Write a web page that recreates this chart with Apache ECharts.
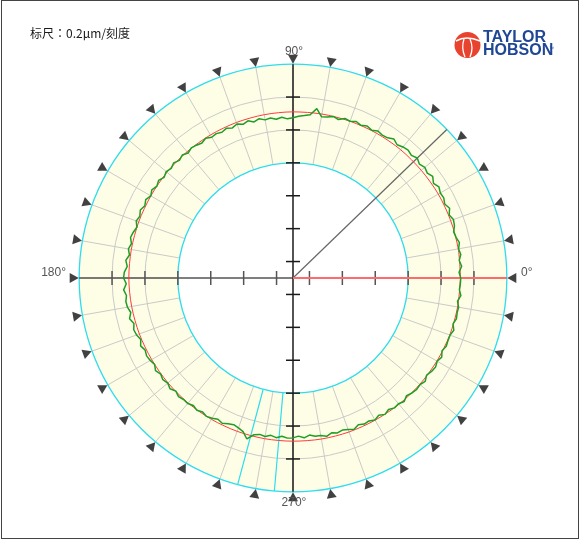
<!DOCTYPE html>
<html><head><meta charset="utf-8">
<script src="https://cdn.jsdelivr.net/npm/echarts@6/dist/echarts.min.js"></script>
<style>
html,body{margin:0;padding:0;background:#fff;}
#frame{position:absolute;left:1px;top:0;width:576px;height:537px;border:1px solid #444;}
#chart{position:absolute;left:0;top:0;width:580px;height:540px;}
</style></head><body>
<div id="frame"></div>
<div id="chart"></div>
<script>
// ---- data ----
const scaleText = '标尺：0.2μm/刻度';
const angleLabels = ['0°', '90°', '180°', '270°'];
const bandInner = 3.5;
const bandOuter = 6.5;
const gridRings = [4.5, 5.5];
const boundaryRings = [3.5, 6.5];
const spokeAngles = [0,10,20,30,40,50,60,70,80,90,100,110,120,130,140,150,160,170,
                     180,190,200,210,220,230,240,250,260,270,280,290,300,310,320,330,340,350];
const markerAngles = spokeAngles;
const cursorAngles = [255, 265];
const axisAngles = [0, 90, 180, 270];
const axisTickRadii = [0.5, 1.5, 2.5, 3.5, 4.5, 5.5];
const refLineAngle = 44;
const lsAngles = [0,10,20,30,40,50,60,70,80,90,100,110,120,130,140,150,160,170,180,
                  190,200,210,220,230,240,250,260,270,280,290,300,310,320,330,340,350,360];
const lsRadius = [5.09,5.10,5.10,5.10,5.09,5.09,5.08,5.07,5.06,5.05,5.04,5.03,5.02,5.01,5.00,4.99,4.99,4.99,4.99,
                  4.98,4.97,4.96,4.96,4.96,4.96,4.96,4.96,4.96,4.97,4.98,4.99,5.01,5.03,5.05,5.07,5.08,5.09];
const profileStep = 2; // degrees between profile samples
const profileRadius = [
  5.10,5.05,5.14,5.08,5.15, 5.11,5.17,5.11,5.08,5.16,
  5.19,5.12,5.21,5.13,5.19, 5.17,5.23,5.15,5.25,5.18,
  5.23,5.17,5.25,5.18,5.23, 5.20,5.14,5.22,5.14,5.12,
  5.16,5.09,5.14,5.08,5.13, 5.07,5.10,5.01,5.06,5.00,
  4.98,5.20,4.99,4.95,4.92, 4.87,4.84,4.90,4.85,4.91,
  4.88,4.95,4.89,4.97,4.91, 4.98,4.92,4.98,4.93,4.97,
  4.94,5.01,4.95,4.99,5.02, 4.96,5.03,4.97,5.04,4.98,
  5.03,4.97,5.05,4.99,5.06, 4.99,5.07,5.01,5.08,5.02,
  5.07,4.99,5.05,5.09,5.02, 5.08,5.02,5.11,5.05,5.13,
  5.15,5.07,5.16,5.09,5.13, 5.11,5.04,5.12,5.03,5.09,
  5.06,4.99,5.07,5.00,5.04, 5.01,4.96,5.04,4.97,5.02,
  4.97,5.03,4.95,5.01,4.97, 4.98,4.92,4.97,4.91,4.96,
  4.92,4.86,4.91,4.85,4.81, 4.85,4.91,5.09,4.91,4.86,
  4.89,4.83,4.88,4.82,4.87, 4.86,4.81,4.87,4.80,4.86,
  4.86,4.92,4.85,4.90,4.86, 4.90,4.96,4.88,4.94,4.92,
  4.98,4.92,5.00,4.94,5.01, 4.99,5.05,4.97,5.03,5.06,
  5.04,5.10,5.02,5.08,5.11, 5.06,5.12,5.04,5.10,5.08,
  5.08,5.14,5.06,5.12,5.10, 5.11,5.05,5.13,5.07,5.09
];

// ---- build ----
const chart = echarts.init(document.getElementById('chart'), null, {renderer: 'canvas'});
const CX = 293, CY = 278, UNIT = 32.9, RMAX = 7;

function center(api) { return api.coord([0, 0]); }
function dist(a, b) { return Math.hypot(a[0] - b[0], a[1] - b[1]); }

const profileData = profileRadius.map((r, i) => [r, i * profileStep]);
profileData.push([profileRadius[0], 360]);
const lsData = lsRadius.map((r, i) => [r, lsAngles[i]]);

const tickData = [];
axisAngles.forEach(a => axisTickRadii.forEach(r => tickData.push([r, a])));

const ringSeries = (rings, color, width, z) => ({
  type: 'custom', coordinateSystem: 'polar', z: z, silent: true,
  data: rings.map(r => [r, 0]),
  renderItem: (params, api) => {
    const c = center(api);
    const rr = dist(c, api.coord([api.value(0), 0]));
    return {type: 'circle', shape: {cx: c[0], cy: c[1], r: rr},
            style: {fill: null, stroke: color, lineWidth: width}};
  }
});
const spokeSeries = (angles, color, width, z) => ({
  type: 'custom', coordinateSystem: 'polar', z: z, silent: true,
  data: angles.map(a => [bandOuter, a]),
  renderItem: (params, api) => {
    const a = api.value(1);
    const p0 = api.coord([bandInner, a]);
    const p1 = api.coord([bandOuter, a]);
    return {type: 'line', shape: {x1: p0[0], y1: p0[1], x2: p1[0], y2: p1[1]},
            style: {stroke: color, lineWidth: width}};
  }
});
const straight = (data, color, width, z) => ({
  type: 'line', coordinateSystem: 'polar', z: z, silent: true,
  showSymbol: false, symbol: 'none', data: data,
  lineStyle: {color: color, width: width}
});
const txt = (x, y, text, align, font, fill) => ({
  type: 'text', x: x, y: y, z: 10,
  style: {text: text, fill: fill, font: font, align: align, verticalAlign: 'middle',
          textAlign: align, textVerticalAlign: 'middle'}
});
const LBL_FONT = '12px "Liberation Sans", Arial, sans-serif';
const LOGO_FONT = 'bold 16px "Liberation Sans", Arial, sans-serif';

const option = {
  animation: false,
  backgroundColor: 'transparent',
  polar: {center: [CX, CY], radius: RMAX * UNIT},
  angleAxis: {type: 'value', min: 0, max: 360, startAngle: 0, clockwise: false,
    axisLine: {show: false}, axisTick: {show: false}, axisLabel: {show: false},
    splitLine: {show: false}},
  radiusAxis: {type: 'value', min: 0, max: RMAX,
    axisLine: {show: false}, axisTick: {show: false}, axisLabel: {show: false},
    splitLine: {show: false}},
  series: [
    { // band
      type: 'custom', coordinateSystem: 'polar', z: 1, silent: true,
      data: [[bandOuter, 0]],
      renderItem: (params, api) => {
        const c = center(api);
        const r0 = dist(c, api.coord([bandInner, 0]));
        const r1 = dist(c, api.coord([bandOuter, 0]));
        return {type: 'ring', shape: {cx: c[0], cy: c[1], r: r1, r0: r0},
                style: {fill: '#FEFEE6'}};
      }
    },
    ringSeries(gridRings, '#cacaca', 1, 2),
    spokeSeries(spokeAngles, '#cacaca', 1, 2),
    ringSeries(boundaryRings, '#2edcee', 1.3, 3),
    spokeSeries(cursorAngles, '#2edcee', 1.2, 3),
    straight([[bandOuter, 180], [bandOuter, 0]], '#555', 1.5, 4),
    straight([[bandOuter, 90], [bandOuter, 270]], '#1a1a1a', 1.5, 4),
    { // axis ticks
      type: 'custom', coordinateSystem: 'polar', z: 4, silent: true,
      data: tickData,
      renderItem: (params, api) => {
        const a = api.value(1);
        const p = api.coord([api.value(0), a]);
        const c = center(api);
        const L = dist(c, p) || 1;
        const ux = (p[0] - c[0]) / L, uy = (p[1] - c[1]) / L;
        const h = 7;
        const col = (a === 0 || a === 180) ? '#555' : '#1a1a1a';
        return {type: 'line', shape: {x1: p[0] - uy * h, y1: p[1] + ux * h, x2: p[0] + uy * h, y2: p[1] - ux * h},
                style: {stroke: col, lineWidth: 1.5}};
      }
    },
    straight([[0, refLineAngle], [bandOuter, refLineAngle]], '#666', 1.2, 5),
    straight([[0, 0], [bandOuter, 0]], '#ff6b6b', 2, 5),
    Object.assign(straight(lsData, '#ff3b3b', 1, 6), {smooth: 0.3}),
    straight(profileData, '#1f9e26', 1.5, 7),
    {
      type: 'scatter', coordinateSystem: 'polar', z: 9, silent: true,
      symbol: 'triangle', symbolSize: [10, 9],
      itemStyle: {color: '#111'},
      data: markerAngles.map(a => ({value: [bandOuter + 0.15, a], symbolRotate: a + 90}))
    }
  ],
  graphic: [
    txt(30, 33, scaleText, 'left', '12px "Noto Sans CJK JP", "Noto Sans CJK SC", sans-serif', '#1a1a1a'),
    txt(521, 273, angleLabels[0], 'left', LBL_FONT, '#555'),
    txt(294, 52, angleLabels[1], 'center', LBL_FONT, '#555'),
    txt(66, 273, angleLabels[2], 'right', LBL_FONT, '#555'),
    txt(294, 503, angleLabels[3], 'center', LBL_FONT, '#555'),
    // logo
    {type: 'circle', shape: {cx: 467.5, cy: 45, r: 13}, style: {fill: '#e8432e'}},
    {type: 'bezierCurve', shape: {x1: 456, y1: 41, cpx1: 466, cpy1: 35, x2: 480, y2: 41},
      style: {stroke: '#fff', lineWidth: 1.6, fill: null}},
    {type: 'bezierCurve', shape: {x1: 464, y1: 39, cpx1: 461, cpy1: 48, x2: 465, y2: 57},
      style: {stroke: '#fff', lineWidth: 1.3, fill: null}},
    {type: 'bezierCurve', shape: {x1: 470, y1: 39, cpx1: 474, cpy1: 48, x2: 470, y2: 57},
      style: {stroke: '#fff', lineWidth: 1.3, fill: null}},
    txt(483, 38, 'TAYLOR', 'left', LOGO_FONT, '#1f4795'),
    txt(483, 51, 'HOBSON', 'left', LOGO_FONT, '#1f4795'),
    txt(549, 49, '™', 'left', '5px "Liberation Sans", Arial, sans-serif', '#1f4795')
  ]
};
chart.setOption(option);
</script>
</body></html>
